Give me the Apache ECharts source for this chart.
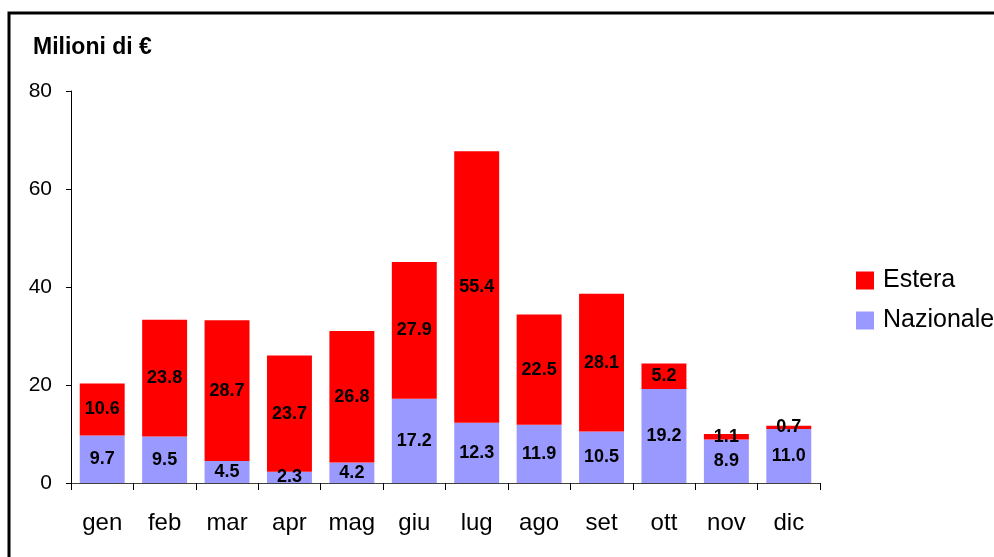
<!DOCTYPE html>
<html>
<head>
<meta charset="utf-8">
<script src="https://cdn.jsdelivr.net/npm/echarts@6/dist/echarts.min.js"></script>
<style>
  html, body { margin: 0; padding: 0; background: #fff; }
  #chart { width: 994px; height: 557px; }
</style>
</head>
<body>
<div id="chart"></div>
<script>
// mesi e valori (milioni di euro)
const months = ['gen', 'feb', 'mar', 'apr', 'mag', 'giu', 'lug', 'ago', 'set', 'ott', 'nov', 'dic'];
const nazionale = [9.7, 9.5, 4.5, 2.3, 4.2, 17.2, 12.3, 11.9, 10.5, 19.2, 8.9, 11.0];
const estera = [10.6, 23.8, 28.7, 23.7, 26.8, 27.9, 55.4, 22.5, 28.1, 5.2, 1.1, 0.7];

const font = 'Liberation Sans, Arial, sans-serif';
const barLabel = {
  show: true,
  position: 'inside',
  color: '#000',
  fontWeight: 'bold',
  fontSize: 18,
  fontFamily: font,
  formatter: p => p.value.toFixed(1)
};

const chart = echarts.init(document.getElementById('chart'));
chart.setOption({
  animation: false,
  backgroundColor: '#fff',
  title: {
    text: 'Milioni di €',
    left: 33,
    top: 36,
    padding: 0,
    textStyle: { fontFamily: font, fontSize: 23, fontWeight: 'bold', color: '#000' }
  },
  legend: {
    orient: 'vertical',
    left: 856,
    top: 268,
    padding: 0,
    itemGap: 15,
    itemWidth: 18,
    itemHeight: 18,
    icon: 'rect',
    data: ['Estera', 'Nazionale'],
    textStyle: { fontFamily: font, fontSize: 25, color: '#000', padding: [0, 0, 0, 4] }
  },
  grid: { left: 71, right: 174, top: 91, bottom: 74 },
  xAxis: {
    type: 'category',
    data: months,
    axisLine: { lineStyle: { color: '#404040', width: 1 } },
    axisTick: { show: true, length: 7, lineStyle: { color: '#000' } },
    axisLabel: { color: '#000', fontSize: 24, fontFamily: font, margin: 28 }
  },
  yAxis: {
    type: 'value',
    min: 0,
    max: 80,
    interval: 20,
    splitLine: { show: false },
    axisLine: { show: true, lineStyle: { color: '#000', width: 1 } },
    axisTick: { show: true, length: 5, lineStyle: { color: '#000' } },
    axisLabel: { color: '#000', fontSize: 21, fontFamily: font, margin: 19 }
  },
  series: [
    {
      name: 'Nazionale',
      type: 'bar',
      stack: 'tot',
      barWidth: '72%',
      itemStyle: { color: '#9999FF' },
      label: barLabel,
      data: nazionale
    },
    {
      name: 'Estera',
      type: 'bar',
      stack: 'tot',
      barWidth: '72%',
      itemStyle: { color: '#FF0000' },
      label: barLabel,
      data: estera
    }
  ],
  graphic: [{
    type: 'rect',
    shape: { x: 9, y: 13, width: 1100, height: 700 },
    style: { fill: 'none', stroke: '#000', lineWidth: 3 },
    silent: true
  }]
});
</script>
</body>
</html>
